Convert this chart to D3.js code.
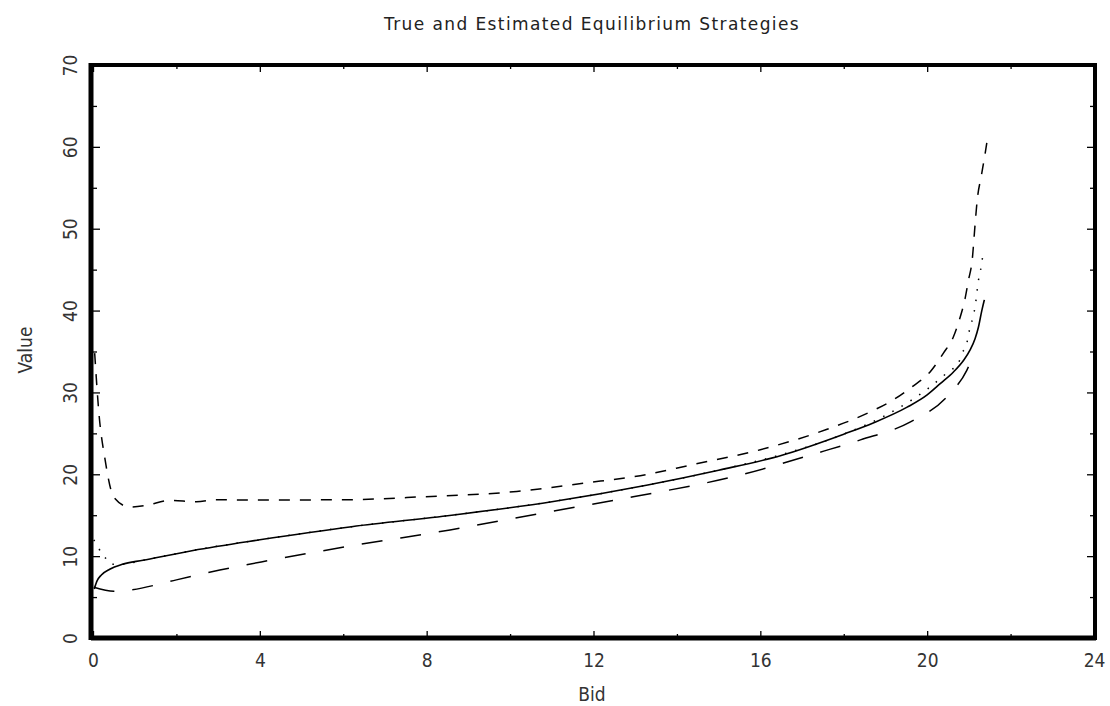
<!DOCTYPE html>
<html>
<head>
<meta charset="utf-8">
<script src="https://cdn.jsdelivr.net/npm/d3@7"></script>
<style>
  body { margin: 0; background: #fff; }
  svg { display: block; }
  .tick text { font-family: "DejaVu Sans Condensed", "DejaVu Sans", sans-serif; font-stretch: condensed; font-size: 19px; fill: #333; }
  .lbl { font-family: "DejaVu Sans Condensed", "DejaVu Sans", sans-serif; font-stretch: condensed; font-size: 19px; fill: #333; }
  .domain { display: none; }
</style>
</head>
<body>
<svg id="chart" width="1110" height="706"></svg>
<script>
// true equilibrium (solid)
const bidTrue = [0.03, 0.1, 0.2, 0.4, 0.7, 1.2, 2.4, 4, 6.2, 8.6, 11, 13.3, 15, 16.5, 18, 18.72, 19.52, 20.0, 20.32, 20.63, 20.87, 21.03, 21.15, 21.23, 21.31, 21.37];
const valTrue = [6.0, 7.0, 7.7, 8.4, 9.0, 9.5, 10.7, 12.0, 13.6, 15.0, 16.65, 18.7, 20.5, 22.3, 24.9, 26.3, 28.2, 29.7, 31.1, 32.5, 33.9, 35.2, 36.6, 38.0, 40.0, 41.3];

// estimate, short dashes (upper)
const bidHi = [0.04, 0.15, 0.28, 0.5, 0.88, 1.28, 1.84, 2.48, 2.96, 3.84, 6.16, 7.9, 10.16, 11.75, 13.3, 14.3, 16.0, 17.6, 18.71, 19.19, 19.64, 20.07, 20.39, 20.63, 20.78, 20.91, 20.99, 21.08, 21.15, 21.2, 21.3, 21.4, 21.45];
const valHi = [34.8, 27, 22.1, 17.2, 16.0, 16.2, 16.8, 16.65, 16.9, 16.85, 16.9, 17.25, 17.9, 18.9, 20.0, 21.1, 23.0, 25.5, 27.8, 29.1, 30.7, 32.5, 34.8, 36.8, 39.0, 41.5, 43.7, 46.2, 50.6, 53.5, 56.5, 59.5, 61.2];

// estimate, long dashes (lower)
const bidLo = [0.02, 0.5, 0.88, 2.0, 3.04, 4.2, 6.3, 8.56, 10.7, 12.95, 15.35, 17.5, 18.4, 19.6, 20.48, 20.95, 21.05];
const valLo = [6.2, 5.7, 5.86, 7.1, 8.3, 9.45, 11.35, 13.2, 15.2, 17.25, 19.7, 22.8, 24.2, 26.4, 29.5, 32.7, 33.8];

// estimate, dotted
const bidDot = [0.02, 0.13, 0.28, 0.44, 0.7, 1.2, 2.4, 4, 6.2, 8.6, 11, 13.3, 15, 16.5, 18, 19, 20, 20.5, 20.75, 20.84, 20.95, 21.03, 21.1, 21.15, 21.23, 21.3, 21.35];
const valDot = [12.0, 11.0, 9.9, 9.0, 9.0, 9.5, 10.7, 12.0, 13.6, 15.0, 16.65, 18.7, 20.5, 22.4, 24.9, 27.2, 30.4, 32.5, 33.6, 34.8, 36.0, 38.0, 39.2, 40.5, 43.7, 45.5, 47.4];

const xMajor = [0, 4, 8, 12, 16, 20, 24];
const xMinor = [2, 6, 10, 14, 18, 22];
const yMajor = [0, 10, 20, 30, 40, 50, 60, 70];
const yMinor = [5, 15, 25, 35, 45, 55, 65];

const svg = d3.select("#chart");
const pLeft = 93, pRight = 1094, pTop = 65, pBottom = 638;

const x = d3.scaleLinear().domain([0, 24]).range([pLeft, pRight]);
const y = d3.scaleLinear().domain([0, 70]).range([pBottom, pTop]);

// ticks, all pointing inward
const g = svg.append("g");
g.append("g").attr("transform", `translate(0,${pBottom})`)
  .call(d3.axisBottom(x).tickValues(xMajor).tickSize(-7))
  .selectAll("text").attr("y", 29).attr("dy", 0);
g.append("g").attr("transform", `translate(0,${pBottom})`)
  .call(d3.axisBottom(x).tickValues(xMinor).tickSize(-4).tickFormat(""));
g.append("g").attr("transform", `translate(0,${pTop})`)
  .call(d3.axisTop(x).tickValues(xMajor).tickSize(-7).tickFormat(""));
g.append("g").attr("transform", `translate(0,${pTop})`)
  .call(d3.axisTop(x).tickValues(xMinor).tickSize(-4).tickFormat(""));

g.append("g").attr("transform", `translate(${pLeft},0)`)
  .call(d3.axisLeft(y).tickValues(yMajor).tickSize(-7))
  .selectAll("text")
  .attr("x", 0).attr("dy", 0)
  .attr("text-anchor", "middle")
  .attr("transform", "translate(-16,0) rotate(-90)");
g.append("g").attr("transform", `translate(${pLeft},0)`)
  .call(d3.axisLeft(y).tickValues(yMinor).tickSize(-4).tickFormat(""));
g.append("g").attr("transform", `translate(${pRight},0)`)
  .call(d3.axisRight(y).tickValues(yMajor).tickSize(-7).tickFormat(""));
g.append("g").attr("transform", `translate(${pRight},0)`)
  .call(d3.axisRight(y).tickValues(yMinor).tickSize(-4).tickFormat(""));

g.selectAll(".tick line").attr("stroke", "#000").attr("stroke-width", 1.3);

// curves
const line = d3.line().x(d => x(d[0])).y(d => y(d[1])).curve(d3.curveMonotoneX);
const series = [
  { b: bidTrue, v: valTrue, dash: null, w: 1.6 },
  { b: bidHi, v: valHi, dash: "11,10", w: 1.5 },
  { b: bidLo, v: valLo, dash: "21,18", w: 1.5 },
  { b: bidDot, v: valDot, dash: "1.5,9", w: 1.5 }
];
svg.append("g").selectAll("path")
  .data(series)
  .join("path")
  .attr("d", s => line(d3.zip(s.b, s.v)))
  .attr("fill", "none")
  .attr("stroke", "#000")
  .attr("stroke-width", s => s.w)
  .attr("stroke-dasharray", s => s.dash);

// frame
const frame = svg.append("g").attr("stroke", "#000");
frame.append("line").attr("x1", pLeft - 2).attr("x2", pRight + 2).attr("y1", pTop).attr("y2", pTop).attr("stroke-width", 4);
frame.append("line").attr("x1", pLeft - 2).attr("x2", pRight + 2).attr("y1", pBottom).attr("y2", pBottom).attr("stroke-width", 5);
frame.append("line").attr("x1", pLeft - 2).attr("x2", pLeft - 2).attr("y1", pTop - 2).attr("y2", pBottom + 2).attr("stroke-width", 5);
frame.append("line").attr("x1", pRight + 1).attr("x2", pRight + 1).attr("y1", pTop - 2).attr("y2", pBottom + 2).attr("stroke-width", 4);

// titles
svg.append("text")
  .attr("x", 592).attr("y", 30)
  .attr("text-anchor", "middle")
  .attr("font-family", "DejaVu Sans, sans-serif")
  .attr("font-size", 17)
  .attr("letter-spacing", 1.4)
  .attr("fill", "#222")
  .text("True and Estimated Equilibrium Strategies");

svg.append("text")
  .attr("class", "lbl")
  .attr("x", 592).attr("y", 701)
  .attr("text-anchor", "middle")
  .text("Bid");

svg.append("text")
  .attr("class", "lbl")
  .attr("transform", "translate(32,350) rotate(-90)")
  .attr("text-anchor", "middle")
  .text("Value");
</script>
</body>
</html>
